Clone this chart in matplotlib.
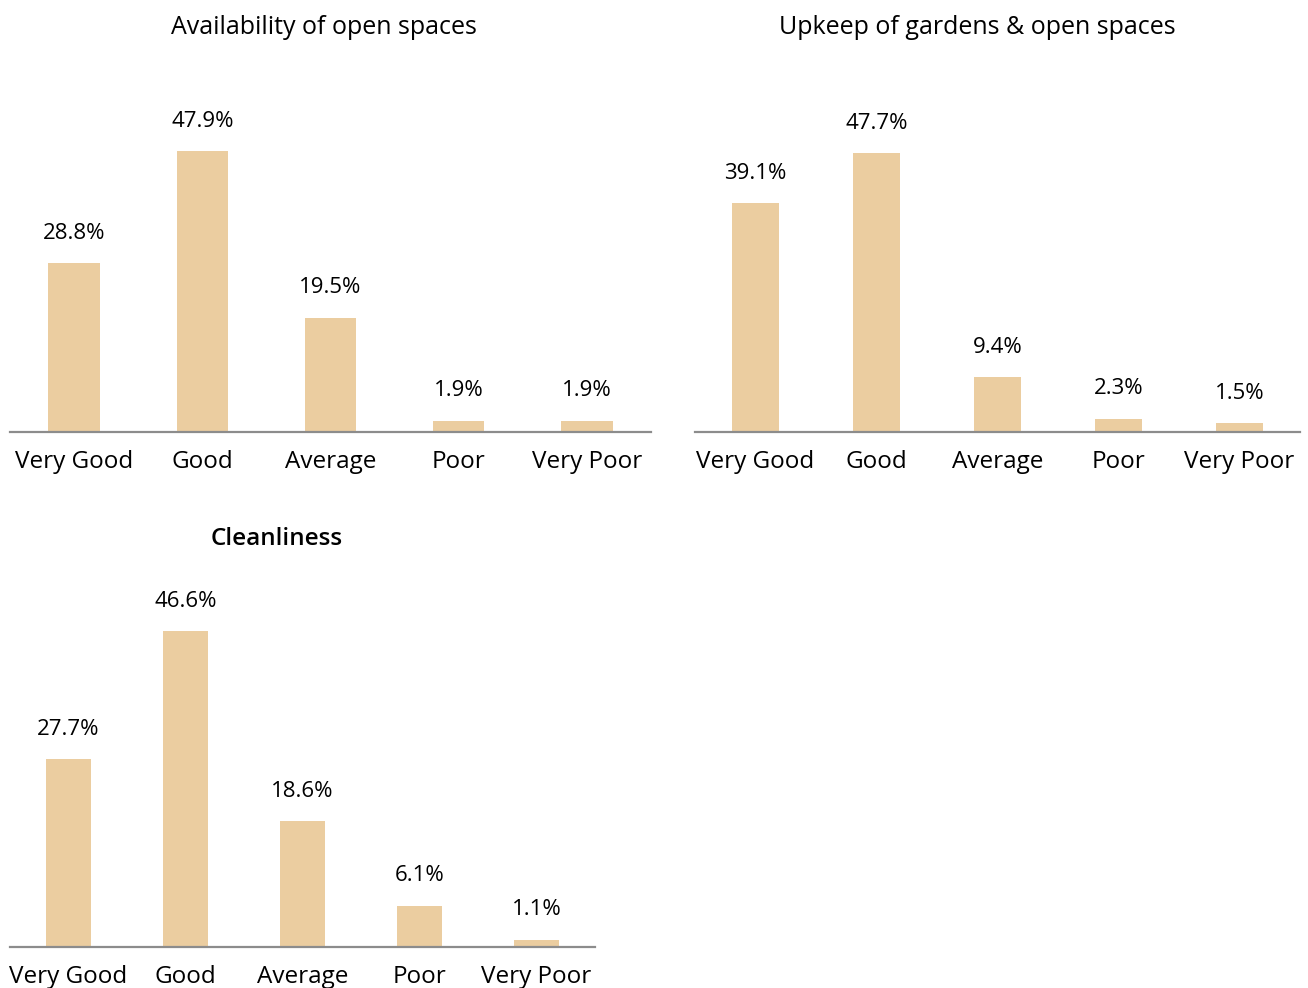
import matplotlib
matplotlib.use("Agg")
import matplotlib.pyplot as plt

plt.rcParams["font.family"] = ["Open Sans", "DejaVu Sans"]

# Data
categories = ["Very Good", "Good", "Average", "Poor", "Very Poor"]
availability = [28.8, 47.9, 19.5, 1.9, 1.9]
upkeep = [39.1, 47.7, 9.4, 2.3, 1.5]
cleanliness = [27.7, 46.6, 18.6, 6.1, 1.1]

titles = ["Availability of open spaces", "Upkeep of gardens & open spaces", "Cleanliness"]

BAR = "#ebcda0"
AXIS = "#8c8c8c"
W, H = 1308, 988

fig = plt.figure(figsize=(W / 100, H / 100), dpi=100)


def px_axes(left, right, top, bottom):
    return fig.add_axes([left / W, 1 - bottom / H, (right - left) / W, (bottom - top) / H])


def draw(ax, values, ymax, width):
    x = range(len(categories))
    ax.bar(x, values, width=width, color=BAR)
    ax.set_xlim(-0.5, 4.5)
    ax.set_ylim(0, ymax)
    # value labels above each bar
    for i, v in zip(x, values):
        ax.annotate(f"{v}%", (i, v), xytext=(0, 21.5), textcoords="offset points",
                    ha="center", va="center", fontsize=16)
    ax.set_xticks(list(x))
    ax.set_xticklabels(categories, fontsize=17.5)
    ax.tick_params(axis="x", length=0, pad=13)
    ax.set_yticks([])
    for s in ["left", "right", "top"]:
        ax.spines[s].set_visible(False)
    ax.spines["bottom"].set_color(AXIS)
    ax.spines["bottom"].set_linewidth(1.6)


ax1 = px_axes(10, 651, 60, 432)
draw(ax1, availability, 63.4, 0.4)

ax2 = px_axes(695, 1300, 60, 432)
draw(ax2, upkeep, 63.6, 0.39)

ax3 = px_axes(10, 595, 575, 947)
draw(ax3, cleanliness, 54.9, 0.39)

# Titles
fig.text(324 / W, 1 - 27 / H, titles[0], ha="center", va="center", fontsize=18)
fig.text(977 / W, 1 - 27 / H, titles[1], ha="center", va="center", fontsize=18)
fig.text(277 / W, 1 - 539 / H, titles[2], ha="center", va="center", fontsize=17.5,
         fontweight="semibold")

fig.savefig("out.png", dpi=100, facecolor="white")
